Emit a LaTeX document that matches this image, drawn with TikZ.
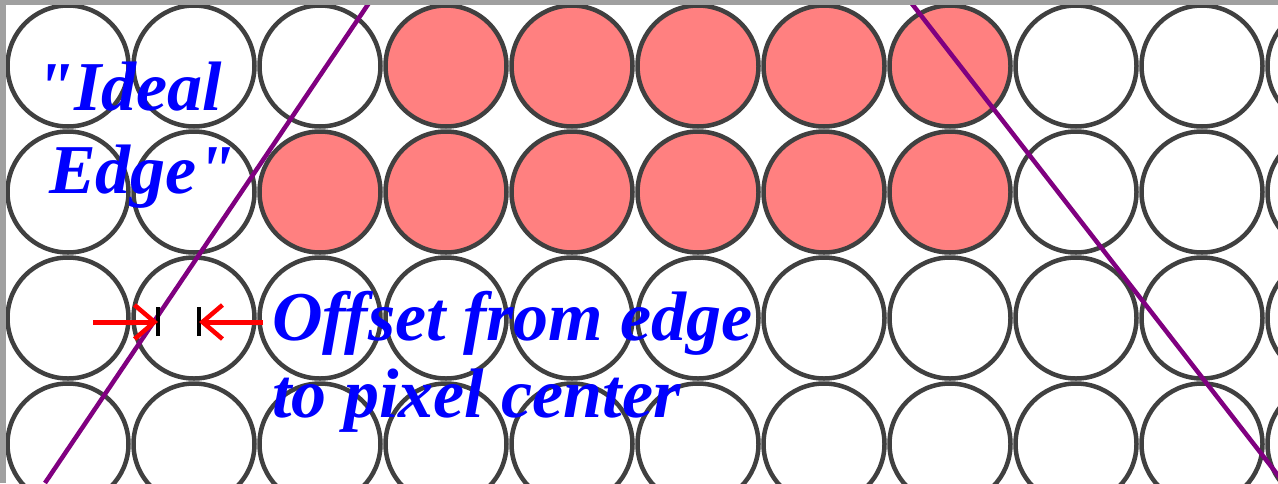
\documentclass[tikz,border=0pt]{standalone}
\usepackage{fontspec}
\setmainfont{Liberation Serif}
\newfontfamily\notefont{Liberation Serif}
\usepackage{tikz}
\usetikzlibrary{arrows.meta}
\usepackage{xcolor}
\definecolor{edgepurple}{RGB}{128,0,128}
\definecolor{ringgray}{RGB}{64,64,64}
\definecolor{framegray}{RGB}{160,160,160}

\begin{document}
\begin{tikzpicture}[
      x=1pt, y=-1pt,
      pixel/.style = {
        circle, draw=ringgray, fill=white, line width=4.5pt,
        minimum size=121pt, inner sep=0pt
      },
      lit/.style = {fill=red!50},
      idealline/.style = {draw=edgepurple, line width=4.5pt},
      offsetarrow/.style = {
        draw=red, line width=5pt,
        -{Straight Barb[length=20pt, width=34pt, line width=4.5pt]}
      },
      tickmark/.style = {draw=black, line width=4pt},
      note/.style = {
        inner sep=0pt, anchor=base west, text=blue,
        font=\notefont\fontsize{70}{77}\selectfont\bfseries\itshape
      }
    ]

    \clip (0,0) rectangle (1278,483);
    \fill[white] (0,0) rectangle (1278,483);

    % pixel grid, rows a--d
    \foreach \col in {1,2,3,9,10,11} \node[pixel] (a\col) at ({126*\col-58}, 66) {};
    \foreach \col in {4,...,8}       \node[pixel, lit] (a\col) at ({126*\col-58}, 66) {};
    \foreach \col in {1,2,9,10,11}   \node[pixel] (b\col) at ({126*\col-58}, 192) {};
    \foreach \col in {3,...,8}       \node[pixel, lit] (b\col) at ({126*\col-58}, 192) {};
    \foreach \col in {1,...,11}      \node[pixel] (c\col) at ({126*\col-58}, 318) {};
    \foreach \col in {1,...,11}      \node[pixel] (d\col) at ({126*\col-58}, 444) {};

    % ideal edges
    \coordinate (leftTop)     at (371,0);
    \coordinate (leftBottom)  at (45,483);
    \coordinate (rightTop)    at (909,0);
    \coordinate (rightBottom) at (1284,483);
    \draw[idealline] (leftTop)  -- (leftBottom);
    \draw[idealline] (rightTop) -- (rightBottom);

    \node[note] (ideal) at (35,110) {"Ideal};
    \node[note] (edge)  at (49,193) {Edge"};
    \node[note, align=left] (offset) at (272,417) {Offset from edge\\to pixel center};

    % offset markers
    \coordinate (edgeMark)   at (158,322);
    \coordinate (centerMark) at (199,322);
    \draw[tickmark] ([yshift=-14pt]edgeMark)   -- ([yshift=15pt]edgeMark);
    \draw[tickmark] ([yshift=-14pt]centerMark) -- ([yshift=15pt]centerMark);
    \coordinate (arrowFrom) at (93,322);
    \coordinate (arrowTo)   at (263,322);
    \draw[offsetarrow] (arrowFrom) -- (edgeMark);
    \draw[offsetarrow] (arrowTo)   -- (centerMark);

    \fill[framegray] (0,0) rectangle (1278,5);
    \fill[framegray] (0,0) rectangle (6,483);

  \end{tikzpicture}
\end{document}
